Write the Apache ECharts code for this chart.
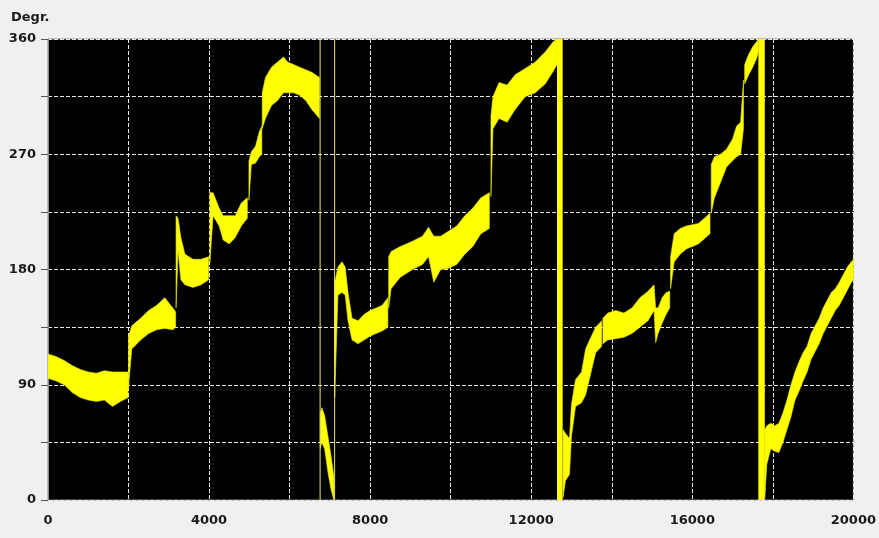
<!DOCTYPE html>
<html><head><meta charset="utf-8">
<script src="https://cdn.jsdelivr.net/npm/echarts@6/dist/echarts.min.js"></script>
<style>html,body{margin:0;padding:0;background:#f0f0f0}#c{width:879px;height:538px}</style>
</head><body><div id="c"></div>
<script>
// Tick labels
const xTickLabels = ['0', '4000', '8000', '12000', '16000', '20000'];
const yTickLabels = ['0', '90', '180', '270', '360'];

// Noisy phase trace, read as a band (lower / upper edge) per sample; null separates runs
const bandX = [
  0,200,400,600,800,1000,1200,1400,1600,1800,1990, null,
  2000,2080,2300,2500,2700,2900,3100,3170, null,
  3180,3230,3300,3400,3600,3800,3990, null,
  4020,4100,4250,4350,4500,4650,4800,4950, null,
  4990,5050,5150,5250,5310, null,
  5320,5400,5550,5700,5850,5950,6100,6250,6400,6550,6740, null,
  6760,6800,6870,6950,7030,7100, null,
  7120,7200,7300,7380,7450,7550,7700,7850,8000,8150,8300,8440, null,
  8460,8520,8750,9050,9300,9450,9580,9750,9950,10150,10350,10550,10750,10960, null,
  11000,11050,11200,11400,11600,11850,12100,12350,12550,12640, null,
  12790,12850,12950,13000,13100,13250,13350,13450,13600,13750, null,
  13780,13900,14100,14300,14500,14700,14900,15050,15090,15150,15250,15350,15440, null,
  15460,15550,15700,15850,16000,16150,16300,16440, null,
  16470,16550,16700,16850,17000,17100,17200,17270, null,
  17300,17400,17500,17600,17640, null,
  17800,17850,17950,18050,18150,18250,18350,18450,18550,18650,18750,18850,18950,19050,19150,19250,19350,19450,19550,19650,19750,19850,19950,20000
];
const bandLo = [
  95,93,90,84,80,78,77,78,73,77,80, null,
  88,118,125,130,133,134,133,135, null,
  150,195,172,168,166,168,172, null,
  185,222,214,203,200,205,214,220, null,
  234,262,263,268,270, null,
  290,298,308,312,318,318,318,316,312,305,298, null,
  40,45,40,22,8,0, null,
  80,160,162,160,140,125,122,125,128,130,132,135, null,
  150,165,174,180,184,190,170,180,181,184,192,198,208,212, null,
  237,290,298,295,305,315,318,325,335,340, null,
  2,15,20,50,73,76,82,95,115,120, null,
  122,125,126,127,130,135,140,148,123,130,138,145,150, null,
  165,186,192,196,198,200,204,208, null,
  224,236,248,260,265,268,270,290, null,
  325,332,338,345,350, null,
  2,28,40,38,37,45,55,65,78,85,93,100,110,116,122,130,136,142,148,152,158,164,170,172
];
const bandHi = [
  114,112,109,105,102,100,99,101,100,100,100, null,
  128,136,142,148,152,158,150,147, null,
  222,220,205,192,188,188,190, null,
  240,240,228,222,222,222,232,236, null,
  265,272,276,288,292, null,
  318,330,338,342,346,342,340,338,336,334,330, null,
  68,72,66,50,34,18, null,
  170,182,186,182,162,142,140,145,148,150,152,158, null,
  190,194,198,202,206,213,206,206,210,214,222,228,236,240, null,
  300,315,326,324,332,337,342,350,358,360, null,
  55,52,48,75,94,100,118,125,135,140, null,
  142,146,148,146,150,158,163,168,150,150,158,162,163, null,
  190,208,212,214,215,216,220,224, null,
  262,268,270,274,282,292,295,328, null,
  340,348,354,358,360, null,
  55,58,60,58,60,68,78,90,100,108,115,120,130,136,142,150,156,162,165,170,176,182,186,188
];

// 360 -> 0 wrap-around jumps (x extent of the full-height vertical strokes)
const wrapFrom = [6745, 7105, 12640, 17640];
const wrapTo   = [6755, 7115, 12780, 17800];

// build runs
const runs = [];
let cur = [];
bandX.forEach((x, i) => {
  if (x === null) { if (cur.length) runs.push(cur); cur = []; }
  else cur.push(i);
});
if (cur.length) runs.push(cur);

const labelFont = { fontFamily: 'DejaVu Sans', fontWeight: 'bold', fontSize: 13, color: '#1a1a1a' };

const chart = echarts.init(document.getElementById('c'), null, { renderer: 'canvas' });
chart.setOption({
  backgroundColor: '#f0f0f0',
  animation: false,
  title: {
    text: 'Degr.', left: 6, top: 6,
    textStyle: { fontFamily: 'DejaVu Sans', fontWeight: 'bold', fontSize: 13, color: '#1a1a1a' }
  },
  grid: {
    left: 48, top: 39, right: 23, bottom: 38,
    show: true, backgroundColor: '#000000', borderColor: '#8a8a8a', borderWidth: 1
  },
  xAxis: {
    type: 'value', min: 0, max: 20000, interval: 2000,
    axisLine: { show: false },
    axisTick: { show: false },
    axisLabel: Object.assign({
      margin: 14,
      formatter: v => (xTickLabels.includes(String(v)) ? String(v) : '')
    }, labelFont),
    splitLine: { show: true, lineStyle: { color: '#e8e8e8', width: 1, type: [4, 2] } }
  },
  yAxis: {
    type: 'value', min: 0, max: 360, interval: 45,
    axisLine: { show: true, lineStyle: { color: '#8a8a8a' } },
    axisTick: { show: true, length: 7, lineStyle: { color: '#555' } },
    axisLabel: Object.assign({
      margin: 12,
      formatter: v => (yTickLabels.includes(String(v)) ? String(v) : '')
    }, labelFont),
    splitLine: { show: true, lineStyle: { color: '#e8e8e8', width: 1, type: [4, 2] } }
  },
  series: [
    {
      type: 'custom',
      clip: true,
      data: runs.map((r, k) => [bandX[r[0]], k]),
      encode: { x: 0 },
      renderItem: function (params, api) {
        const r = runs[params.dataIndex];
        const pts = [];
        r.forEach(i => pts.push(api.coord([bandX[i], bandHi[i]])));
        r.slice().reverse().forEach(i => pts.push(api.coord([bandX[i], bandLo[i]])));
        return {
          type: 'polygon',
          shape: { points: pts },
          style: { fill: '#ffff00', stroke: '#e6e600', lineWidth: 0.6 }
        };
      }
    },
    {
      type: 'custom',
      clip: true,
      data: wrapFrom.map((x, i) => [wrapFrom[i], wrapTo[i]]),
      encode: { x: [0, 1] },
      renderItem: function (params, api) {
        const a = api.coord([api.value(0), 360]);
        const b = api.coord([api.value(1), 0]);
        const w = b[0] - a[0];
        const thin = w < 2;
        return {
          type: 'rect',
          shape: { x: a[0], y: a[1], width: Math.max(1, w), height: b[1] - a[1] },
          style: { fill: thin ? '#e8e27a' : '#ffff00' }
        };
      }
    }
  ]
});
</script>
</body></html>
